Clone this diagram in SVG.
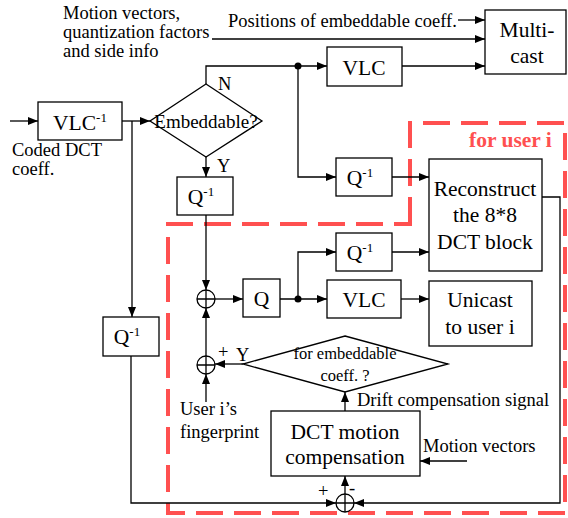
<svg xmlns="http://www.w3.org/2000/svg" width="568" height="518" viewBox="0 0 568 518" font-family="'Liberation Serif', 'Times New Roman', serif">
<style>
.box{fill:#fff;stroke:#000;stroke-width:1.3}
.ln{fill:none;stroke:#000;stroke-width:1.3}
.t{font-family:"Liberation Serif","Times New Roman",serif;fill:#000}
.b{font-size:21.5px;text-anchor:middle}
.s{font-size:18.5px}
.sup{font-size:13px}
.red{fill:none;stroke:#FF5050;stroke-width:4;stroke-dasharray:27 11}
</style>
<defs>
<marker id="ar" markerWidth="10" markerHeight="8" refX="10" refY="4" orient="auto" markerUnits="userSpaceOnUse">
<path d="M0,0 L10,4 L0,8 Z" fill="#000"/>
</marker>
</defs>
<rect width="568" height="518" fill="#fff"/>

<g id="region">
<path class="red" d="M410,224 L410,123 L565,123 L565,513 L168,513 L168,224 Z"/>
<text class="t" x="469" y="147" style="font-size:21.5px;font-weight:bold;fill:#FF5050">for user i</text>
</g>

<g id="connectors">
<path class="ln" d="M10,121 L38,121" marker-end="url(#ar)"/>
<path class="ln" d="M122,121 L150,121" marker-end="url(#ar)"/>
<path class="ln" d="M132,121 L132,317" marker-end="url(#ar)"/>
<path class="ln" d="M206,84 L206,66 L298,66 L327,66" marker-end="url(#ar)"/>
<path class="ln" d="M402,66 L485,66" marker-end="url(#ar)"/>
<path class="ln" d="M212,39 L485,39" marker-end="url(#ar)"/>
<path class="ln" d="M458,20 L485,20" marker-end="url(#ar)"/>
<path class="ln" d="M298,66 L298,177 L336,177" marker-end="url(#ar)"/>
<path class="ln" d="M392,177 L429,177" marker-end="url(#ar)"/>
<path class="ln" d="M206,157 L206,177" marker-end="url(#ar)"/>
<path class="ln" d="M206,215 L206,290" marker-end="url(#ar)"/>
<path class="ln" d="M215,299 L243,299" marker-end="url(#ar)"/>
<path class="ln" d="M280,299 L327,299" marker-end="url(#ar)"/>
<path class="ln" d="M298,299 L298,252 L336,252" marker-end="url(#ar)"/>
<path class="ln" d="M392,252 L429,252" marker-end="url(#ar)"/>
<path class="ln" d="M401,299 L429,299" marker-end="url(#ar)"/>
<path class="ln" d="M243,364 L215,364" marker-end="url(#ar)"/>
<path class="ln" d="M206,356 L206,308" marker-end="url(#ar)"/>
<path class="ln" d="M206,402 L206,374" marker-end="url(#ar)"/>
<path class="ln" d="M345,411 L345,392" marker-end="url(#ar)"/>
<path class="ln" d="M345,494 L345,476" marker-end="url(#ar)"/>
<path class="ln" d="M467,461 L420,461" marker-end="url(#ar)"/>
<path class="ln" d="M131,356 L131,503 L336,503" marker-end="url(#ar)"/>
<path class="ln" d="M542,197 L560,197 L560,503 L354,503" marker-end="url(#ar)"/>
<circle cx="298" cy="66" r="3.5" fill="#000"/>
<circle cx="298" cy="299" r="3.5" fill="#000"/>
<text class="t s" x="218" y="90">N</text>
<text class="t s" x="217" y="172">Y</text>
<text class="t s" x="236" y="361">Y</text>
<text class="t s" x="218" y="358">+</text>
<text class="t s" x="318" y="497">+</text>
<text class="t s" x="349" y="494">-</text>
</g>

<g id="labels">
<text class="t s" x="63" y="19">Motion vectors,</text>
<text class="t s" x="63" y="38">quantization factors</text>
<text class="t s" x="63" y="57">and side info</text>
<text class="t s" x="228" y="27">Positions of embeddable coeff.</text>
<text class="t s" x="12" y="156">Coded DCT</text>
<text class="t s" x="12" y="175">coeff.</text>
<text class="t s" x="180" y="415">User i’s</text>
<text class="t s" x="180" y="438">fingerprint</text>
<text class="t s" x="357" y="406">Drift compensation signal</text>
<text class="t s" x="423" y="452">Motion vectors</text>
</g>

<g id="vlc-inv">
<rect class="box" x="38" y="102" width="84" height="38"/>
<text class="t" x="80" y="130" style="font-size:21.5px;text-anchor:middle">VLC<tspan class="sup" dy="-8">-1</tspan></text>
</g>

<g id="embeddable">
<polygon class="box" points="206,84 262,121 206,157 150,121"/>
<text class="t" x="206" y="128" style="font-size:19px;text-anchor:middle">Embeddable?</text>
</g>

<g id="vlc-top">
<rect class="box" x="327" y="47" width="75" height="39"/>
<text class="t b" x="364" y="75">VLC</text>
</g>

<g id="multicast">
<rect class="box" x="485" y="10" width="81" height="64"/>
<text class="t b" x="527" y="37">Multi-</text>
<text class="t b" x="527" y="63">cast</text>
</g>

<g id="qinv-y">
<rect class="box" x="177" y="177" width="56" height="38"/>
<text class="t" x="201" y="204" style="font-size:21.5px;text-anchor:middle">Q<tspan class="sup" dy="-8">-1</tspan></text>
</g>

<g id="qinv-n">
<rect class="box" x="336" y="158" width="56" height="38"/>
<text class="t" x="360" y="185" style="font-size:21.5px;text-anchor:middle">Q<tspan class="sup" dy="-8">-1</tspan></text>
</g>

<g id="reconstruct">
<rect class="box" x="429" y="159" width="113" height="112"/>
<text class="t b" x="485" y="196">Reconstruct</text>
<text class="t b" x="485" y="222">the 8*8</text>
<text class="t b" x="485" y="249">DCT block</text>
</g>

<g id="adder1">
<circle class="box" cx="206" cy="299" r="9"/>
<path class="ln" d="M197,299 H215 M206,290 V308"/>
</g>

<g id="q">
<rect class="box" x="243" y="279" width="37" height="38"/>
<text class="t b" x="261.5" y="306">Q</text>
</g>

<g id="qinv-user">
<rect class="box" x="336" y="233" width="56" height="38"/>
<text class="t" x="360" y="260" style="font-size:21.5px;text-anchor:middle">Q<tspan class="sup" dy="-8">-1</tspan></text>
</g>

<g id="vlc-user">
<rect class="box" x="327" y="280" width="74" height="38"/>
<text class="t b" x="364" y="307">VLC</text>
</g>

<g id="unicast">
<rect class="box" x="429" y="281" width="103" height="65"/>
<text class="t b" x="480" y="307">Unicast</text>
<text class="t b" x="480" y="334">to user i</text>
</g>

<g id="qinv-left">
<rect class="box" x="103" y="317" width="56" height="39"/>
<text class="t" x="127" y="344" style="font-size:21.5px;text-anchor:middle">Q<tspan class="sup" dy="-8">-1</tspan></text>
</g>

<g id="adder2">
<circle class="box" cx="206" cy="365" r="9"/>
<path class="ln" d="M197,365 H215 M206,356 V374"/>
</g>

<g id="embeddable-coeff">
<polygon class="box" points="345,336 448,364 345,392 243,364"/>
<text class="t" x="345" y="359" style="font-size:16.5px;text-anchor:middle">for embeddable</text>
<text class="t" x="345" y="381" style="font-size:16.5px;text-anchor:middle">coeff. ?</text>
</g>

<g id="dct-mc">
<rect class="box" x="271" y="411" width="149" height="65"/>
<text class="t b" x="345" y="439">DCT motion</text>
<text class="t b" x="345" y="464">compensation</text>
</g>

<g id="adder3">
<circle class="box" cx="345" cy="503" r="9"/>
<path class="ln" d="M336,503 H354 M345,494 V512"/>
</g>
</svg>
